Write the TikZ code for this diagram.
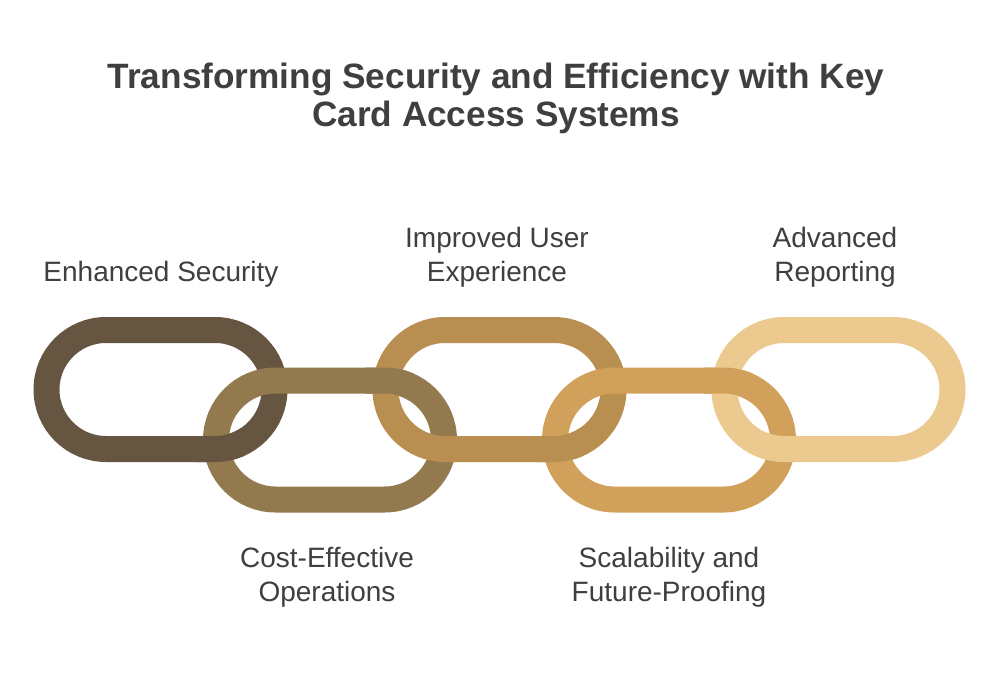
\documentclass[tikz,border=0pt]{standalone}
\usepackage{fontspec}
\setmainfont{Liberation Sans}
\usetikzlibrary{shapes.misc}

\definecolor{inkgray}{HTML}{3F3F3F}
\definecolor{linkA}{HTML}{655541}
\definecolor{linkB}{HTML}{927A4E}
\definecolor{linkC}{HTML}{B88F50}
\definecolor{linkD}{HTML}{D1A05A}
\definecolor{linkE}{HTML}{EBC98F}

\begin{document}
\begin{tikzpicture}[x=0.75pt,y=-0.75pt]

        % Styles
        \tikzset{
          link/.style={rounded rectangle,draw,line width=19.5pt,
                       minimum width=171pt,minimum height=89.25pt,inner sep=0pt},
          caption/.style={anchor=base,align=center,text=inkgray,inner sep=0pt,
                          font=\fontsize{21}{25.1}\selectfont},
          heading/.style={anchor=base,align=center,text=inkgray,inner sep=0pt,
                          font=\fontsize{26.4}{28.5}\selectfont\bfseries}
        }

        % y-levels (pixels, downwards)
        \def\ytop{389.5}   % upper links
        \def\ybot{440}     % lower links

        \useasboundingbox[fill=white] (0,0) rectangle (1000,678);

        %-------------------------------
        % Title (base = last line)
        %-------------------------------
        \node[heading] (title) at (496,126)
        {Transforming Security and Efficiency with Key\\Card Access Systems};

        %-------------------------------
        % Chain links (left to right)
        %-------------------------------
        \node[link,draw=linkA] (L1) at (160.5,\ytop) {};
        \node[link,draw=linkB] (L2) at (330,\ybot)   {};
        \node[link,draw=linkC] (L3) at (499.5,\ytop) {};
        \node[link,draw=linkD] (L4) at (669,\ybot)   {};
        \node[link,draw=linkE] (L5) at (838.5,\ytop) {};

        %-------------------------------
        % Interlocking: put the hidden crossings back on top
        %-------------------------------
        \begin{scope}
          \clip (195,428) rectangle (245,470);
          \node[link,draw=linkA] (L1over) at (160.5,\ytop) {};
        \end{scope}
        \begin{scope}
          \clip (365,360) rectangle (415,400);
          \node[link,draw=linkB] (L2over) at (330,\ybot) {};
        \end{scope}
        \begin{scope}
          \clip (534,428) rectangle (584,470);
          \node[link,draw=linkC] (L3over) at (499.5,\ytop) {};
        \end{scope}
        \begin{scope}
          \clip (704,360) rectangle (754,400);
          \node[link,draw=linkD] (L4over) at (669,\ybot) {};
        \end{scope}

        %-------------------------------
        % Captions (base = last line)
        %-------------------------------
        \node[caption] (capA) at (161,281) {Enhanced Security};
        \node[caption] (capC) at (497,281) {Improved User\\Experience};
        \node[caption] (capE) at (835,281) {Advanced\\Reporting};
        \node[caption] (capB) at (327,601) {Cost-Effective\\Operations};
        \node[caption] (capD) at (669,601) {Scalability and\\Future-Proofing};

    \end{tikzpicture}
\end{document}
